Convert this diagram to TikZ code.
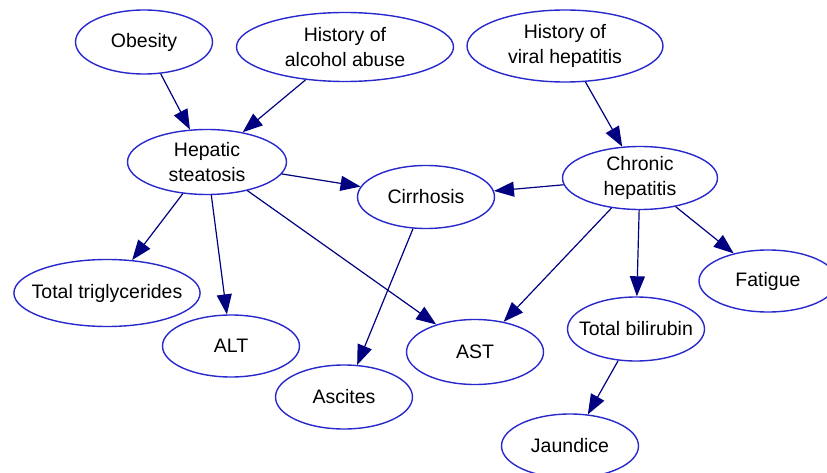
\documentclass[tikz,border=0pt]{standalone}
\usepackage{fontspec}
\setmainfont{Liberation Sans}
\usetikzlibrary{shapes.geometric,arrows.meta}
\definecolor{varblue}{RGB}{40,40,205}
\definecolor{linknavy}{RGB}{0,0,128}

\begin{document}
\begin{tikzpicture}[x=1pt,y=-1pt,
	var/.style={ellipse,draw=varblue,line width=1.4pt,fill=white,minimum width=137pt,minimum height=64pt,inner sep=0pt,align=center,font=\fontsize{19.5}{25}\selectfont},
	link/.style={draw=linknavy,line width=1.2pt,-{Triangle[length=20pt,width=15pt]}}]
	\useasboundingbox (0,0) rectangle (827,473);
	\node[var] (obesity) at (144,42) {Obesity};
	\node[var,minimum width=217pt,minimum height=69pt] (alcohol) at (345,47) {History of\\alcohol abuse};
	\node[var,minimum width=196pt,minimum height=72pt] (viral) at (565,46) {History of\\viral hepatitis};
	\node[var,minimum width=159pt,minimum height=65pt] (steatosis) at (207,162) {Hepatic\\steatosis};
	\node[var,minimum height=63pt] (cirrhosis) at (426,197) {Cirrhosis};
	\node[var,minimum width=155pt,minimum height=63pt] (chronic) at (640,178) {Chronic\\hepatitis};
	\node[var,inner xsep=-9.5pt,minimum height=67pt] (trig) at (107,293) {Total triglycerides};
	\node[var,minimum height=62pt] (alt) at (231,346) {ALT};
	\node[var] (ascites) at (344,397) {Ascites};
	\node[var,minimum height=65pt] (ast) at (475,352) {AST};
	\node[var,inner xsep=-9pt] (bili) at (636,329) {Total bilirubin};
	\node[var,minimum width=138pt,minimum height=62pt] (fatigue) at (768,281) {Fatigue};
	\node[var] (jaundice) at (570,446) {Jaundice};

	\draw[link] (obesity) -- (steatosis);
	\draw[link] (alcohol) -- (steatosis);
	\draw[link] (viral) -- (chronic);
	\draw[link] (steatosis) -- (cirrhosis);
	\draw[link] (chronic) -- (cirrhosis);
	\draw[link] (steatosis) -- (trig);
	\draw[link] (steatosis) -- (alt);
	\draw[link] (steatosis) -- (ast);
	\draw[link] (cirrhosis) -- (ascites);
	\draw[link] (chronic) -- (ast);
	\draw[link] (chronic) -- (bili);
	\draw[link] (chronic) -- (fatigue);
	\draw[link] (bili) -- (jaundice);
\end{tikzpicture}
\end{document}
